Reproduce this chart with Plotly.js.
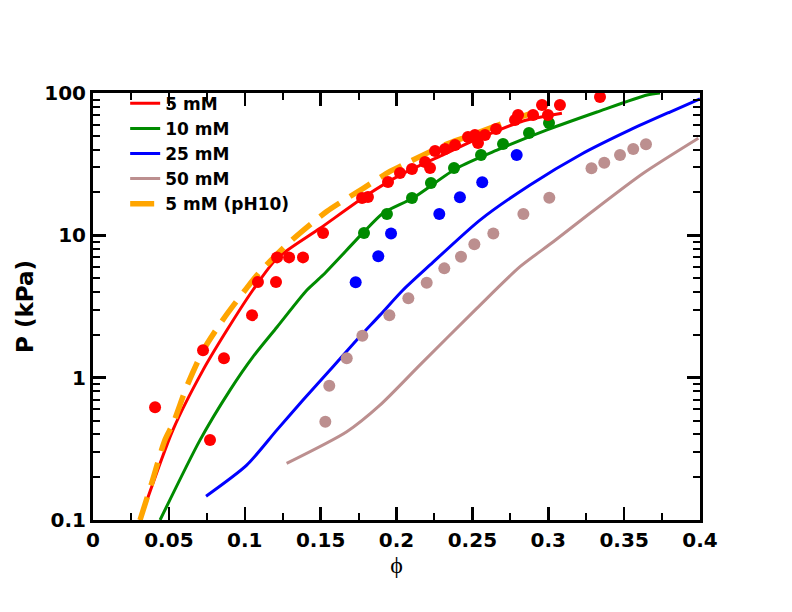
<!DOCTYPE html>
<html>
<head>
<meta charset="utf-8">
<script src="https://cdn.plot.ly/plotly-3.0.1.min.js"></script>
<style>
  body { margin: 0; background: #fff; }
  #chart { width: 792px; height: 612px; }
</style>
</head>
<body>
<div id="chart"></div>
<script>
// model curves (lines)
var fit5x = [0.031, 0.0527, 0.0725, 0.0883, 0.1054, 0.1213, 0.1496, 0.1806, 0.2023, 0.2300, 0.255, 0.2834, 0.309];
var fit5y = [0.1, 0.43, 1.13, 2.16, 4.13, 6.9, 11.2, 19.2, 26.5, 36.5, 48.3, 63.6, 72];

var fit10x = [0.0442, 0.0705, 0.0903, 0.1054, 0.1213, 0.141, 0.1516, 0.1779, 0.1911, 0.2109, 0.2399, 0.2662, 0.2992, 0.3321, 0.3651, 0.3736];
var fit10y = [0.1, 0.364, 0.818, 1.40, 2.27, 4.13, 5.26, 10.4, 14.3, 18.3, 29.7, 39.7, 55, 73.5, 96.8, 100];

var fit25x = [0.0745, 0.1013, 0.1211, 0.1384, 0.1562, 0.1738, 0.1891, 0.2043, 0.2221, 0.255, 0.288, 0.3209, 0.3539, 0.3802, 0.4];
var fit25y = [0.147, 0.243, 0.428, 0.697, 1.13, 1.84, 2.75, 4.13, 6.19, 12.8, 22.6, 36.7, 55, 73.5, 90.8];

var fit50x = [0.1276, 0.1672, 0.1891, 0.2155, 0.2529, 0.2814, 0.3033, 0.3275, 0.3626, 0.3989];
var fit50y = [0.25, 0.417, 0.641, 1.23, 3.07, 6.02, 9.01, 14.3, 27.3, 48.1];

var fitPH10x = [0.031, 0.0387, 0.0474, 0.0529, 0.0617, 0.0727, 0.087, 0.1013, 0.11, 0.1298, 0.154, 0.1781, 0.1957, 0.2067, 0.232, 0.2473, 0.2737, 0.299];
var fitPH10y = [0.1, 0.182, 0.365, 0.48, 0.863, 1.56, 2.68, 4.26, 5.55, 9.0, 14.7, 21.4, 28.1, 32.2, 43.3, 49.6, 63.3, 78.5];

// measured points (dots)
var dat5x = [0.0409, 0.0725, 0.0771, 0.0863, 0.1048, 0.1087, 0.1206, 0.1213, 0.1292, 0.1384, 0.1516, 0.1773, 0.1812,
             0.1944, 0.2023, 0.2102, 0.2188, 0.2221, 0.2254, 0.232, 0.2386, 0.2471, 0.2517, 0.2537, 0.2583,
             0.2656, 0.2781, 0.2801, 0.290, 0.2959, 0.2998, 0.3077, 0.3341];
var dat5y = [0.62, 1.56, 0.365, 1.37, 2.75, 4.7, 4.7, 7.0, 7.0, 7.0, 10.4, 18.3, 18.6,
             23.7, 27.4, 29.2, 32.8, 29.7, 39.1, 40.4, 43.1, 49.1, 50.7, 44.5, 50.7,
             55.8, 64.6, 70.0, 70.0, 82.3, 70.0, 82.3, 93.7];

var dat10x = [0.1786, 0.1937, 0.2102, 0.2227, 0.2379, 0.2557, 0.2702, 0.2873, 0.3005];
var dat10y = [10.4, 14.1, 18.3, 23.3, 29.7, 36.7, 43.8, 52.4, 61.5];

var dat25x = [0.1731, 0.188, 0.1964, 0.2282, 0.2418, 0.2565, 0.2792];
var dat25y = [4.68, 7.12, 10.3, 14.1, 18.5, 23.6, 36.7];

var dat50x = [0.1531, 0.1557, 0.1672, 0.1775, 0.1953, 0.2078, 0.2199, 0.2315, 0.2425, 0.2513, 0.2638,
              0.2836, 0.3007, 0.3285, 0.3369, 0.3473, 0.356, 0.3644];
var dat50y = [0.49, 0.877, 1.37, 1.97, 2.74, 3.61, 4.64, 5.86, 7.07, 8.65, 10.3,
              14.1, 18.4, 29.6, 32.3, 36.7, 40.4, 43.6];

var names = ['5 mM', '10 mM', '25 mM', '50 mM', '5 mM (pH10)'];
var RED = '#ff0000', GREEN = '#008b00', BLUE = '#0000ff', ROSY = '#bc8f8f', ORANGE = '#ffa500';

function line(x, y, name, color) {
    return {x: x, y: y, name: name, type: 'scatter', mode: 'lines',
            line: {color: color, width: 3, shape: 'spline', smoothing: 0.7}};
}
function dots(x, y, color) {
    return {x: x, y: y, type: 'scatter', mode: 'markers', showlegend: false,
            marker: {color: color, size: 12}};
}

var data = [
    line(fit5x, fit5y, names[0], RED),
    line(fit10x, fit10y, names[1], GREEN),
    line(fit25x, fit25y, names[2], BLUE),
    line(fit50x, fit50y, names[3], ROSY),
    {x: fitPH10x, y: fitPH10y, name: names[4], type: 'scatter', mode: 'lines',
     line: {color: ORANGE, width: 5.5, dash: '24px,12px', shape: 'spline', smoothing: 0.7}},
    dots(dat50x, dat50y, ROSY),
    dots(dat25x, dat25y, BLUE),
    dots(dat10x, dat10y, GREEN),
    dots(dat5x, dat5y, RED)
];

var tickFont = {family: 'DejaVu Sans', size: 20, color: '#000', weight: 'bold'};

var layout = {
    width: 792, height: 612,
    margin: {l: 93, r: 92, t: 93, b: 92},
    paper_bgcolor: '#fff', plot_bgcolor: '#fff',
    showlegend: true,
    legend: {x: 0.053, y: 1.017, xanchor: 'left', yanchor: 'top', bgcolor: 'rgba(0,0,0,0)',
             font: {family: 'DejaVu Sans', size: 17, color: '#000', weight: 'bold'}},
    xaxis: {
        range: [0, 0.4], dtick: 0.05, tick0: 0,
        showgrid: false, zeroline: false,
        showline: true, linewidth: 3, linecolor: '#000', mirror: 'allticks',
        ticks: 'inside', ticklen: 13, tickwidth: 2.5, tickcolor: '#000',
        minor: {dtick: 0.025, ticks: 'inside', ticklen: 7, tickwidth: 2, tickcolor: '#000', showgrid: false},
        tickfont: tickFont,
        title: {text: 'ϕ', font: {family: 'Liberation Serif', size: 24, color: '#000'}, standoff: 0}
    },
    yaxis: {
        type: 'log', range: [-1, 2], dtick: 1,
        showgrid: false, zeroline: false,
        showline: true, linewidth: 3, linecolor: '#000', mirror: 'allticks',
        ticks: 'inside', ticklen: 13, tickwidth: 2.5, tickcolor: '#000',
        minor: {dtick: 'D1', ticks: 'inside', ticklen: 7, tickwidth: 2, tickcolor: '#000', showgrid: false},
        tickfont: tickFont,
        title: {text: 'P (kPa)', font: {family: 'DejaVu Sans', size: 23, color: '#000', weight: 'bold'}, standoff: 5}
    }
};

Plotly.newPlot('chart', data, layout, {displayModeBar: false, staticPlot: true});
</script>
</body>
</html>
